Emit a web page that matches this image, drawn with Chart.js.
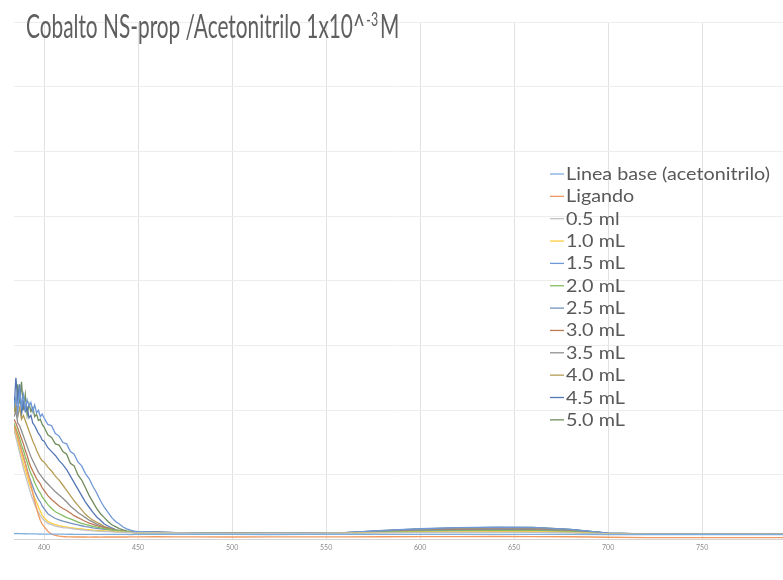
<!DOCTYPE html>
<html>
<head>
<meta charset="utf-8">
<script src="https://cdn.jsdelivr.net/npm/chart.js@4.4.1/dist/chart.umd.min.js"></script>
<style>
  html, body { margin: 0; padding: 0; background: #fff; }
  #wrap { width: 783px; height: 580px; }
</style>
</head>
<body>
<div id="wrap"><canvas id="chart" width="783" height="580"></canvas></div>
<script>
// longitud de onda (nm)
const wavelengths = [384,385,386,387,388,389,390,391,392,393,394,395,396,397,398,399,400,
  402,404,406,408,410,412,414,416,418,420,422,424,426,428,430,432,434,436,438,440,442,444,446,448,450,
  460,470,480,500,520,540,560,580,600,620,640,660,680,700,720,750,793]

// absorbancia
const lineaBase = [.047,.046,.047,.046,.046,.045,.046,.045,.045,.044,.045,.044,.044,.043,.044,.043,.043,
  .043,.042,.043,.042,.042,.041,.042,.041,.041,.041,.040,.041,.040,.040,.041,.040,.040,.040,.041,.040,.040,.040,.039,.040,.040,
  .040,.040,.041,.040,.039,.040,.040,.040,.041,.040,.040,.041,.040,.039,.039,.039,.038]
const ligando = [.88,.84,.80,.74,.69,.64,.59,.53,.48,.42,.36,.30,.24,.19,.15,.12,.10,
  .065,.042,.033,.027,.024,.022,.021,.020,.021,.020,.020,.019,.020,.020,.019,.020,.020,.021,.020,.020,.021,.020,.021,.021,.021,
  .022,.021,.021,.020,.021,.021,.021,.022,.023,.023,.024,.023,.022,.018,.016,.015,.015]
const ml05 = [.85,.79,.73,.67,.61,.55,.50,.45,.40,.35,.31,.27,.24,.21,.185,.165,.15,
  .125,.115,.105,.098,.093,.090,.086,.082,.079,.076,.073,.070,.068,.066,.064,.062,.061,.060,.058,.057,.056,.055,.054,.053,.052,
  .051,.049,.048,.046,.047,.047,.048,.052,.054,.055,.056,.056,.052,.043,.041,.040,.040]
const ml10 = [.86,.81,.76,.70,.65,.59,.54,.49,.44,.40,.36,.32,.29,.25,.22,.19,.17,
  .140,.125,.115,.108,.102,.097,.092,.088,.085,.082,.079,.077,.074,.072,.070,.068,.066,.064,.062,.060,.058,.056,.055,.053,.052,
  .052,.050,.048,.047,.047,.048,.049,.054,.058,.060,.062,.061,.056,.044,.041,.041,.040]
const ml15 = [1.02,1.10,0.98,1.15,1.04,1.12,1.01,1.08,1.03,1.06,0.99,1.04,0.98,1.00,0.95,0.97,0.94,
  .89,.88,.82,.80,.75,.74,.68,.66,.60,.57,.51,.47,.41,.36,.30,.25,.21,.17,.14,.12,.097,.083,.073,.066,.062,
  .058,.054,.052,.050,.051,.051,.054,.071,.084,.092,.097,.095,.079,.050,.045,.044,.043]
const ml20 = [.90,.86,.82,.78,.73,.69,.64,.60,.55,.51,.48,.44,.41,.38,.36,.33,.31,
  .27,.24,.215,.200,.185,.170,.160,.148,.135,.125,.117,.110,.103,.096,.090,.085,.080,.075,.071,.067,.063,.060,.057,.054,.052,
  .053,.050,.049,.047,.048,.048,.050,.057,.064,.068,.070,.069,.061,.045,.042,.041,.041]
const ml25 = [.88,.84,.79,.74,.69,.64,.59,.54,.49,.45,.41,.37,.34,.31,.29,.26,.24,
  .200,.180,.163,.152,.143,.135,.127,.120,.113,.107,.101,.096,.091,.087,.083,.079,.076,.073,.070,.066,.063,.060,.057,.054,.052,
  .054,.051,.049,.048,.048,.048,.050,.059,.067,.072,.074,.073,.063,.046,.042,.042,.041]
const ml30 = [.93,.90,.86,.82,.78,.74,.69,.65,.60,.56,.53,.50,.47,.45,.43,.40,.38,
  .34,.31,.285,.26,.24,.225,.205,.185,.17,.155,.14,.128,.118,.108,.10,.093,.086,.078,.072,.067,.063,.059,.056,.054,.052,
  .054,.051,.049,.048,.048,.049,.051,.061,.070,.075,.078,.077,.066,.046,.043,.042,.041]
const ml35 = [.95,.99,.90,.88,.84,.80,.76,.72,.68,.64,.61,.58,.55,.52,.50,.48,.46,
  .43,.40,.37,.345,.32,.29,.26,.235,.21,.19,.17,.15,.135,.12,.108,.097,.088,.078,.072,.067,.063,.060,.057,.055,.053,
  .055,.052,.050,.048,.049,.049,.052,.063,.073,.080,.083,.082,.070,.047,.043,.042,.042]
const ml40 = [.98,1.05,.95,1.02,.93,.96,.92,.88,.84,.80,.76,.73,.69,.66,.63,.61,.60,
  .56,.53,.49,.46,.42,.38,.34,.30,.265,.23,.195,.17,.15,.134,.12,.10,.092,.083,.076,.07,.065,.061,.058,.056,.054,
  .056,.052,.050,.049,.049,.050,.052,.066,.077,.084,.088,.087,.073,.048,.044,.043,.042]
const ml45 = [1.00,1.25,1.08,1.20,0.97,1.06,0.99,1.02,0.94,0.96,0.90,0.88,0.85,0.82,0.80,0.77,0.76,
  .71,.68,.65,.61,.58,.54,.49,.44,.39,.34,.29,.25,.21,.175,.15,.12,.105,.09,.078,.07,.065,.061,.058,.056,.055,
  .057,.053,.051,.049,.050,.050,.053,.068,.080,.088,.092,.091,.076,.049,.044,.043,.042]
const ml50 = [1.10,0.98,1.20,1.05,1.22,1.00,1.12,0.96,1.05,0.99,1.02,0.95,0.97,0.92,0.93,0.89,0.87,
  .81,.79,.74,.73,.68,.66,.59,.57,.50,.46,.40,.34,.29,.24,.20,.17,.14,.115,.10,.085,.076,.068,.063,.060,.058,
  .058,.054,.052,.050,.050,.051,.054,.070,.083,.091,.095,.094,.078,.050,.045,.044,.043]

const seriesLabels = ['Linea base (acetonitrilo)', 'Ligando', '0.5 ml', '1.0 mL', '1.5 mL', '2.0 mL',
  '2.5 mL', '3.0 mL', '3.5 mL', '4.0 mL', '4.5 mL', '5.0 mL']
const seriesValues = [lineaBase, ligando, ml05, ml10, ml15, ml20, ml25, ml30, ml35, ml40, ml45, ml50]
const seriesColors = ['#7eaede', '#f09a62', '#c2c2c2', '#ffcd40', '#6f98d8', '#86bd62',
  '#7393bd', '#bd7a55', '#8f8f8f', '#b59c55', '#5577b5', '#6f8c5c']
const xTicks = [400, 450, 500, 550, 600, 650, 700, 750]

const datasets = seriesValues.map((vals, i) => ({
  label: seriesLabels[i],
  data: wavelengths.map((w, j) => ({ x: w, y: vals[j] })),
  borderColor: seriesColors[i],
  borderWidth: 1.3,
  pointRadius: 0,
  tension: 0,
  fill: false
}))

// titulo y leyenda dibujados sobre el area del grafico (como en Excel)
const titleLegend = {
  id: 'titleLegend',
  afterDraw(chart) {
    const ctx = chart.ctx
    ctx.save()
    ctx.fillStyle = '#5f5f5f'
    // titulo, estrecho y alto
    const main = 'Cobalto NS-prop /Acetonitrilo 1x10^'
    ctx.font = '32px Lato'
    const w1 = ctx.measureText(main).width
    const sx = 339 / w1
    ctx.translate(26, 38)
    ctx.scale(sx, 1)
    ctx.textBaseline = 'alphabetic'
    ctx.fillText(main, 0, 0)
    ctx.font = '19px Lato'
    ctx.fillText('-3', w1 + 2, -12)
    const w2 = ctx.measureText('-3').width
    ctx.font = '32px Lato'
    ctx.fillText('M', w1 + w2 + 5, 0)
    ctx.restore()

    ctx.save()
    ctx.font = '17.5px Lato'
    ctx.textBaseline = 'alphabetic'
    const lx = 204 / ctx.measureText(seriesLabels[0]).width
    chart.data.datasets.forEach((ds, i) => {
      const y = 174 + i * 22.35
      ctx.strokeStyle = ds.borderColor
      ctx.lineWidth = 1.3
      ctx.beginPath()
      ctx.moveTo(550, y)
      ctx.lineTo(564, y)
      ctx.stroke()
      ctx.save()
      ctx.translate(566, y + 6)
      ctx.scale(lx, 1)
      ctx.fillStyle = '#595959'
      ctx.fillText(ds.label, 0, 0)
      ctx.restore()
    })
    ctx.restore()
  }
}

new Chart(document.getElementById('chart'), {
  type: 'line',
  data: { datasets },
  options: {
    responsive: false,
    animation: false,
    layout: { padding: { left: 14, right: 0, top: 22, bottom: 24 } },
    plugins: { legend: { display: false }, title: { display: false }, tooltip: { enabled: false } },
    scales: {
      x: {
        type: 'linear',
        min: 384,
        max: 793,
        afterBuildTicks: (axis) => { axis.ticks = xTicks.map(v => ({ value: v })) },
        ticks: { font: { size: 7, family: 'Lato' }, color: '#8c8c8c', padding: 4, maxRotation: 0, autoSkip: false },
        grid: { color: '#e2e2e2', drawTicks: false },
        border: { display: true, color: '#d4d4d4' }
      },
      y: {
        min: 0,
        max: 4,
        ticks: { display: false, stepSize: 0.5 },
        grid: { color: '#ededed', drawTicks: false },
        border: { display: false }
      }
    }
  },
  plugins: [titleLegend]
})
</script>
</body>
</html>
